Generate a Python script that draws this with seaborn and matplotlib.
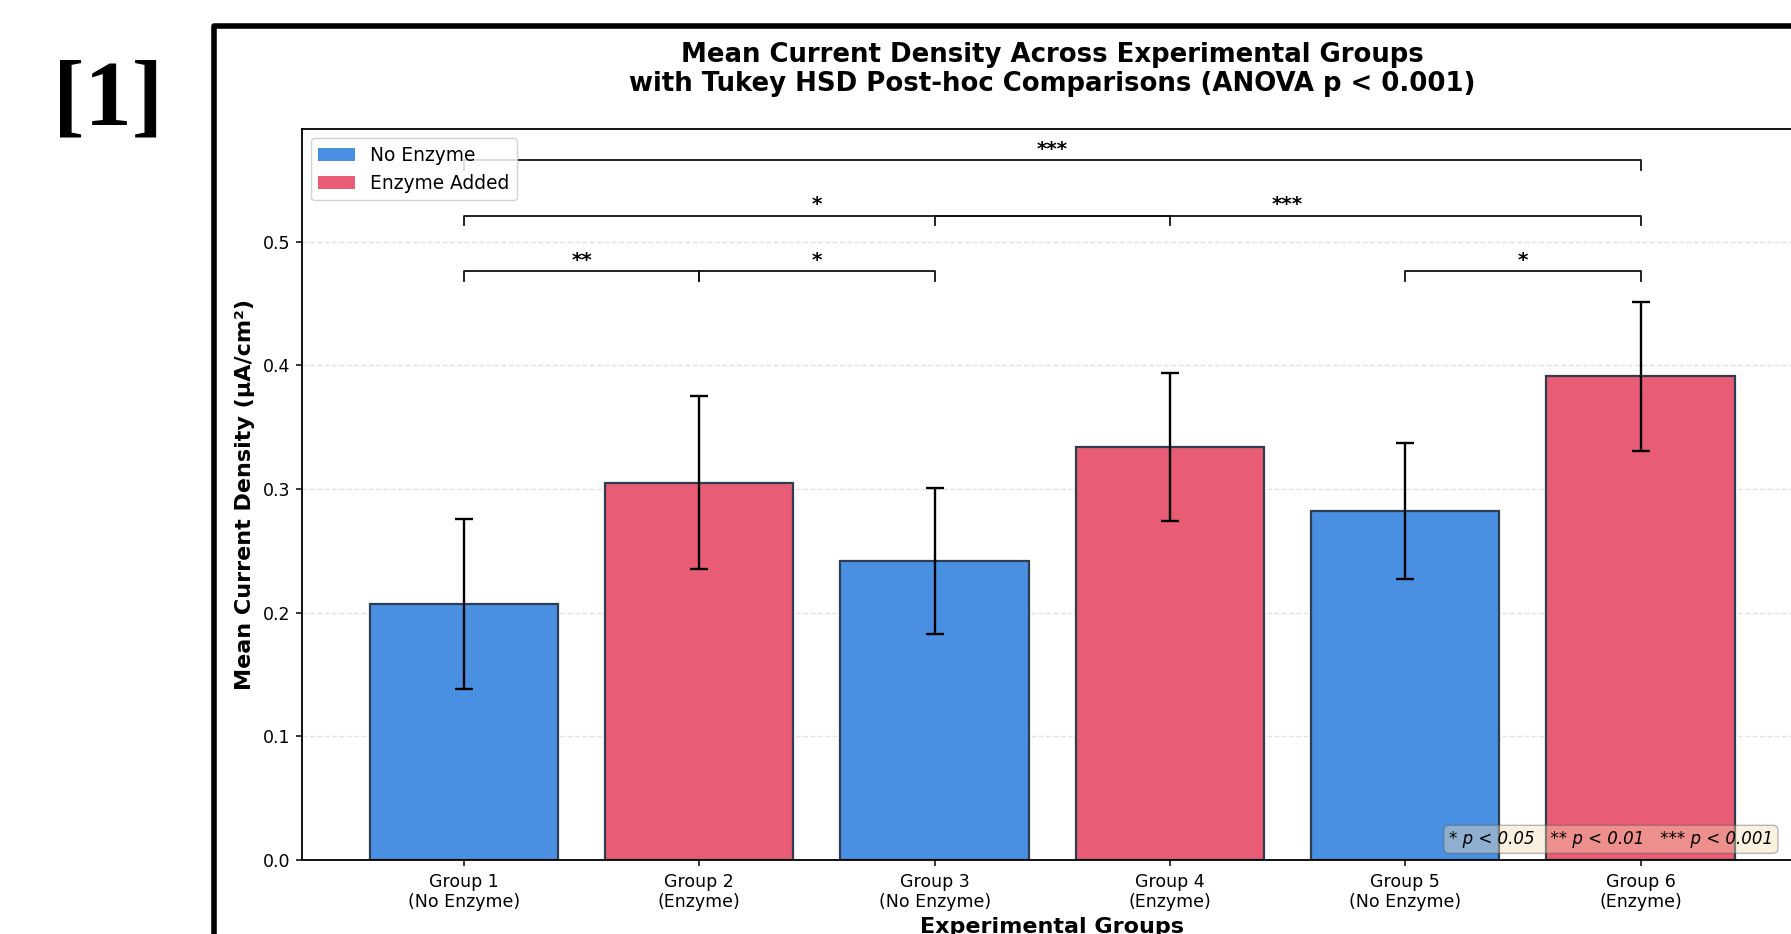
import matplotlib
matplotlib.use("Agg")
import matplotlib.pyplot as plt
from matplotlib.patches import Patch, Rectangle
import pandas as pd
import seaborn as sns

# ---- data -------------------------------------------------------------
groups = ["Group 1\n(No Enzyme)", "Group 2\n(Enzyme)", "Group 3\n(No Enzyme)",
          "Group 4\n(Enzyme)", "Group 5\n(No Enzyme)", "Group 6\n(Enzyme)"]
conditions = ["No Enzyme", "Enzyme Added", "No Enzyme",
              "Enzyme Added", "No Enzyme", "Enzyme Added"]
means = [0.207, 0.305, 0.242, 0.334, 0.282, 0.391]
sems = [0.069, 0.070, 0.059, 0.060, 0.055, 0.060]

# Tukey HSD pairs (group indices), bracket heights and significance stars
pairs = [(0, 1), (1, 2), (4, 5), (0, 3), (2, 5), (0, 5)]
bracket_heights = [0.476, 0.476, 0.476, 0.521, 0.521, 0.566]
sig_labels = ["**", "*", "*", "*", "***", "***"]

condition_order = ["No Enzyme", "Enzyme Added"]
palette = {"No Enzyme": "#4A90E2", "Enzyme Added": "#E85D75"}

title = ("Mean Current Density Across Experimental Groups\n"
         "with Tukey HSD Post-hoc Comparisons (ANOVA p < 0.001)")
sig_note = "* p < 0.05   ** p < 0.01   *** p < 0.001"

df = pd.DataFrame({"group": groups, "condition": conditions, "mean": means})

# ---- figure -----------------------------------------------------------
W, H, DPI = 1791, 934, 100
fig = plt.figure(figsize=(W / DPI, H / DPI), dpi=DPI)
fig.patch.set_facecolor("white")

# axes placed in pixel terms (extends past the right edge of the canvas)
ax_l, ax_r, ax_t, ax_b = 301.5, 1803.0, 129.0, 860.0
ax = fig.add_axes([ax_l / W, (H - ax_b) / H, (ax_r - ax_l) / W, (ax_b - ax_t) / H])

sns.barplot(data=df, x="group", y="mean", hue="condition", order=groups,
            hue_order=condition_order, palette=palette, dodge=False,
            saturation=1.0, errorbar=None, width=0.8, edgecolor="#2C3E50",
            linewidth=1.6, legend=False, ax=ax, zorder=2)

xpos = list(range(len(groups)))
ax.errorbar(xpos, means, yerr=sems, fmt="none", ecolor="black",
            elinewidth=1.7, capsize=6.8, capthick=1.7, zorder=3)

ax.set_xlim(-0.69, len(groups) - 1 + 0.69)
ax.set_ylim(0, 0.591)
ax.set_yticks([0.0, 0.1, 0.2, 0.3, 0.4, 0.5])
ax.yaxis.grid(True, linestyle="--", color="#b0b0b0", alpha=0.35, linewidth=1.0)
ax.xaxis.grid(False)
ax.set_axisbelow(True)

for sp in ax.spines.values():
    sp.set_linewidth(1.3)
    sp.set_color("black")
ax.tick_params(axis="both", labelsize=12.5, length=4.5, width=1.1, color="black")
ax.tick_params(axis="x", pad=4.6)

ax.set_xlabel("Experimental Groups", fontsize=16, fontweight="bold", labelpad=4)
ax.set_ylabel("Mean Current Density (μA/cm²)", fontsize=16, fontweight="bold",
              labelpad=6)
ax.set_title(title, fontsize=18.7, fontweight="bold", pad=27.4, linespacing=1.15)

# significance brackets
tick = 0.008
for (i, j), h, lab in zip(pairs, bracket_heights, sig_labels):
    ax.plot([i, i, j, j], [h - tick, h, h, h - tick], color="#111111",
            linewidth=1.3, zorder=4)
    ax.text((i + j) / 2, h + 0.001, lab, ha="center", va="bottom",
            fontsize=14.5, fontweight="bold", zorder=4)

handles = [Patch(facecolor=palette[c], edgecolor="none", label=c)
           for c in condition_order]
ax.legend(handles=handles, loc="upper left", fontsize=13.4, framealpha=0.85,
          edgecolor="#cccccc")

ax.text(0.98, 0.016, sig_note, transform=ax.transAxes, ha="right", va="bottom",
        fontsize=12.0, style="italic", zorder=6,
        bbox=dict(boxstyle="round,pad=0.3", facecolor="wheat", alpha=0.4,
                  edgecolor="#555555"))

# outer panel frame and panel label
frame_x, frame_y = 213.5, 25.5
fig.add_artist(Rectangle((frame_x / W, -0.2), 1.5, 1.2 - frame_y / H,
                         transform=fig.transFigure, fill=False,
                         edgecolor="black", linewidth=4.0,
                         joinstyle="round", clip_on=False))
fig.text(108 / W, 1 - 102 / H, "[1]", ha="center", va="center",
         fontsize=68, fontweight="bold", family="Liberation Serif")

fig.savefig("out.png", dpi=DPI)
